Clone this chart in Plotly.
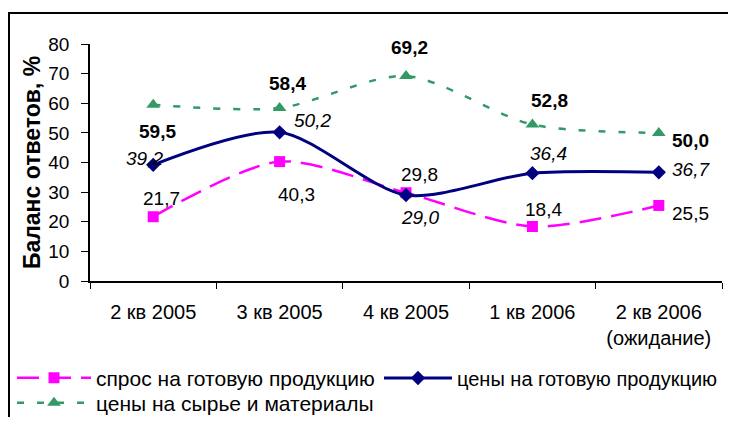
import plotly.graph_objects as go

# ---- data ----
categories = ["2 кв 2005", "3 кв 2005", "4 кв 2005", "1 кв 2006", "2 кв 2006<br>(ожидание)"]
demand = [21.7, 40.3, 29.8, 18.4, 25.5]          # спрос на готовую продукцию
prices_goods = [39.2, 50.2, 29.0, 36.4, 36.7]    # цены на готовую продукцию
prices_raw = [59.5, 58.4, 69.2, 52.8, 50.0]      # цены на сырье и материалы
series_names = ["спрос на готовую продукцию", "цены на готовую продукцию", "цены на сырье и материалы"]
y_tick_values = [0, 10, 20, 30, 40, 50, 60, 70, 80]
y_title = "Баланс ответов, %"

# ---- label pixel offsets (dx right, dy down) ----
demand_off = [(8, -18), (17, 33), (13, -18), (11, -17), (32, 8)]
goods_off = [(-9, -6), (33, -12), (14, 22), (16, -20), (32, -3)]
raw_off = [(4, 27), (8, -24), (3, -29), (17, -24), (32, 8)]

FONT = "Liberation Sans, Arial, sans-serif"
PINK = "#FF00FF"
NAVY = "#000080"
GREEN = "#339966"

# page offset of the figure (browser body margin); figure sized so no scrollbars appear
OFF = 8
W, H = 720, 409
L = 90 - OFF
T = 44 - OFF
R = W - (722 - OFF)
B = H - (281 - OFF)
PW = W - L - R
PH = H - T - B


def px_x(px):
    """page pixel x -> paper coordinate"""
    return (px - OFF - L) / PW


def px_y(py):
    """page pixel y -> paper coordinate"""
    return (H - B - (py - OFF)) / PH


fig = go.Figure()
fig.add_trace(go.Scatter(
    x=categories, y=demand, name=series_names[0], mode="lines+markers",
    line=dict(color=PINK, width=2.5, dash="22px,10px", shape="spline", smoothing=0.8),
    marker=dict(symbol="square", size=11, color=PINK),
    legend="legend",
))
fig.add_trace(go.Scatter(
    x=categories, y=prices_goods, name=series_names[1], mode="lines+markers",
    line=dict(color=NAVY, width=3, shape="spline", smoothing=0.8),
    marker=dict(symbol="diamond", size=11, color=NAVY),
    legend="legend2",
))
fig.add_trace(go.Scatter(
    x=categories, y=prices_raw, name=series_names[2], mode="lines+markers",
    line=dict(color=GREEN, width=2.5, dash="7px,13px", shape="spline", smoothing=0.8),
    marker=dict(symbol="triangle-up", size=12, color=GREEN),
    legend="legend3",
))


def fmt(v):
    return f"{v:.1f}".replace(".", ",")


annotations = []
for vals, offs, style in [(demand, demand_off, "normal"),
                          (prices_goods, goods_off, "italic"),
                          (prices_raw, raw_off, "bold")]:
    for cat, v, (dx, dy) in zip(categories, vals, offs):
        txt = fmt(v)
        if style == "bold":
            txt = f"<b>{txt}</b>"
        elif style == "italic":
            txt = f"<i>{txt}</i>"
        annotations.append(dict(
            x=cat, y=v, xref="x", yref="y", text=txt, showarrow=False,
            xshift=dx, yshift=-dy, font=dict(family=FONT, size=19, color="black"),
            xanchor="center", yanchor="middle",
        ))

# chart frame (page pixels: left x=9, top y=13; right and bottom run off the picture)
shapes = [
    dict(type="rect", xref="paper", yref="paper", layer="above",
         x0=px_x(9), x1=px_x(780), y0=px_y(470), y1=px_y(13),
         line=dict(color="black", width=2), fillcolor="rgba(0,0,0,0)"),
]

legend_common = dict(orientation="h", xanchor="left", yanchor="middle",
                     bgcolor="rgba(0,0,0,0)", borderwidth=0)

fig.update_layout(
    width=W, height=H,
    margin=dict(l=L, r=R, t=T, b=B, autoexpand=False),
    paper_bgcolor="white", plot_bgcolor="white",
    font=dict(family=FONT, size=19, color="black"),
    showlegend=True,
    legend=dict(x=px_x(12), y=px_y(378), itemwidth=74,
                font=dict(family=FONT, size=21, color="black"), **legend_common),
    legend2=dict(x=px_x(379), y=px_y(378), itemwidth=68,
                 font=dict(family=FONT, size=20, color="black"), **legend_common),
    legend3=dict(x=px_x(12), y=px_y(403), itemwidth=74,
                 font=dict(family=FONT, size=21, color="black"), **legend_common),
    xaxis=dict(
        type="category", range=[-0.5, 4.5], showline=True, linecolor="black", linewidth=1.5,
        ticks="outside", tickson="boundaries", ticklen=6, tickcolor="black", tickwidth=1,
        showgrid=False, zeroline=False, tickfont=dict(family=FONT, size=20, color="black"),
        ticklabelstandoff=12,
    ),
    yaxis=dict(
        range=[0, 80], tickvals=y_tick_values, showline=True, linecolor="black", linewidth=1.5,
        ticks="outside", ticklen=7, tickcolor="black", tickwidth=1,
        showgrid=False, zeroline=False, tickfont=dict(family=FONT, size=19, color="black"),
        ticklabelstandoff=8,
        title=dict(text=f"<b>{y_title}</b>", font=dict(family=FONT, size=23, color="black"), standoff=1),
    ),
    annotations=annotations,
    shapes=shapes,
)

fig.write_html("out.html")
